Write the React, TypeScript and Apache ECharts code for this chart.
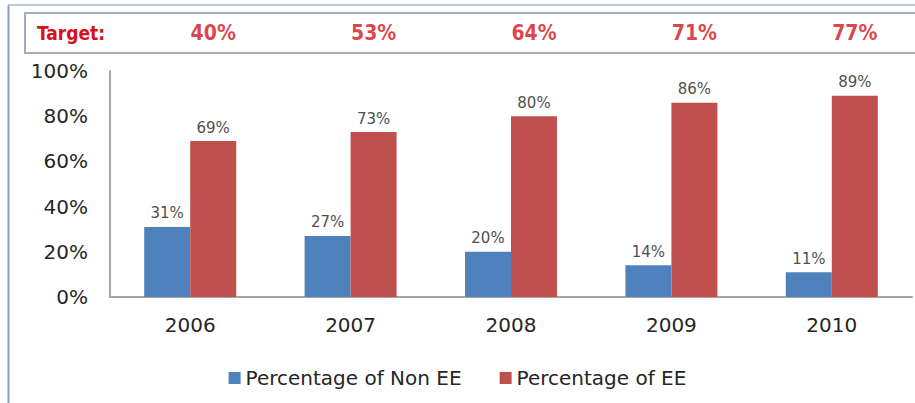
import React, { useEffect, useRef } from "react";
import * as echarts from "echarts";

const categories = ["2006", "2007", "2008", "2009", "2010"];
const nonEE = [31, 27, 20, 14, 11];
const ee = [69, 73, 80, 86, 89];
const targets = [40, 53, 64, 71, 77];
const seriesNames = ["Percentage of Non EE", "Percentage of EE"];

const FONT = "'DejaVu Sans', 'Noto Sans', sans-serif";
const NARROW = "'Liberation Sans Narrow', 'DejaVu Sans Condensed', sans-serif";

export default function App() {
  const ref = useRef<HTMLDivElement>(null);
  useEffect(() => {
    if (!ref.current) return;
    const chart = echarts.init(ref.current, undefined, { renderer: "svg" });
    const labelStyle = {
      show: true,
      position: "top",
      distance: 6,
      color: "#505050",
      fontSize: 15,
      fontFamily: FONT,
      formatter: (p: any) => p.value + "%",
    };
    chart.setOption({
      animation: false,
      backgroundColor: "#ffffff",
      graphic: [
        { type: "line", shape: { x1: 8.5, y1: 5, x2: 8.5, y2: 403 }, style: { stroke: "#8a9bc9", lineWidth: 2 } },
        { type: "line", shape: { x1: 8, y1: 5, x2: 915, y2: 5 }, style: { stroke: "#aab4c8", lineWidth: 1.5 } },
        { type: "rect", shape: { x: 25, y: 13, width: 895, height: 40 }, style: { fill: "#ffffff", stroke: "#a3adbd", lineWidth: 2 } },
        {
          type: "text",
          x: 37,
          y: 33,
          style: {
            text: "Target:",
            fill: "#d4121c",
            font: "bold 19px " + NARROW,
            verticalAlign: "middle",
          },
        },
      ],
      legend: {
        bottom: 10,
        left: "center",
        itemWidth: 12,
        itemHeight: 12,
        itemGap: 38,
        icon: "rect",
        textStyle: { fontSize: 20, color: "#262626", fontFamily: FONT },
        data: seriesNames,
      },
      grid: [
        { left: 110, right: 3, top: 71, bottom: 106 },
        { left: 110, right: 3, top: 13, height: 40 },
      ],
      xAxis: [
        {
          type: "category",
          data: categories,
          gridIndex: 0,
          axisLine: { lineStyle: { color: "#a6a6a6", width: 2 } },
          axisTick: { show: false },
          axisLabel: { color: "#262626", fontSize: 20, fontFamily: FONT, margin: 18 },
        },
        {
          type: "category",
          data: categories,
          gridIndex: 1,
          show: false,
        },
      ],
      yAxis: [
        {
          type: "value",
          gridIndex: 0,
          min: 0,
          max: 100,
          interval: 20,
          axisLine: { show: true, lineStyle: { color: "#a6a6a6", width: 2 } },
          axisTick: { show: false },
          splitLine: { show: false },
          axisLabel: { color: "#262626", fontSize: 20, fontFamily: FONT, margin: 22, formatter: "{value}%" },
        },
        { type: "value", gridIndex: 1, min: 0, max: 1, show: false },
      ],
      series: [
        {
          name: seriesNames[0],
          type: "bar",
          data: nonEE,
          barWidth: 46,
          barGap: "0%",
          itemStyle: { color: "#4f81bd" },
          label: labelStyle,
        },
        {
          name: seriesNames[1],
          type: "bar",
          data: ee,
          barWidth: 46,
          barGap: "0%",
          itemStyle: { color: "#c0504d" },
          label: labelStyle,
        },
        {
          name: "Target",
          type: "scatter",
          xAxisIndex: 1,
          yAxisIndex: 1,
          data: targets.map((t, i) => [i, 0.5, t]),
          symbolSize: 1,
          itemStyle: { color: "rgba(0,0,0,0)" },
          label: {
            show: true,
            position: "inside",
            offset: [23, 0],
            color: "#d4121c",
            fontSize: 21,
            fontWeight: "bold",
            fontFamily: NARROW,
            formatter: (p: any) => p.value[2] + "%",
          },
        },
      ],
    });
    return () => chart.dispose();
  }, []);
  return <div ref={ref} style={{ position: "fixed", left: 0, top: 0, width: 915, height: 403 }} />;
}
